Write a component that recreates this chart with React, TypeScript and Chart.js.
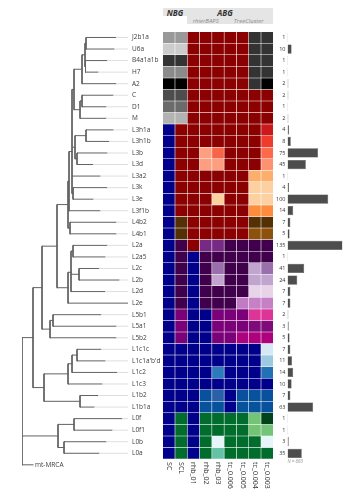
import React, { useEffect, useRef } from 'react';
import { Chart, registerables } from 'chart.js';

Chart.register(...registerables);

// ---------- data ----------
const leafNames = [
  'J2b1a', 'U6a', 'B4a1a1b', 'H7', 'A2', 'C', 'D1', 'M',
  'L3h1a', 'L3h1b', 'L3b', 'L3d', 'L3a2', 'L3k', 'L3e', 'L3f1b',
  'L4b2', 'L4b1', 'L2a', 'L2a5', 'L2c', 'L2b', 'L2d', 'L2e',
  'L5b1', 'L5a1', 'L5b2', 'L1c1c', "L1c1a'b'd", 'L1c2', 'L1c3', 'L1b2', 'L1b1a',
  'L0f', 'L0f1', 'L0b', 'L0a',
];
// distance from the root to each tip
const leafDepths = [
  94, 92, 85, 76, 94, 91, 84, 84,
  91, 87, 85, 71, 78, 85, 71, 78,
  94, 94, 85, 83, 77, 97, 83, 106,
  79, 94, 94, 79, 83, 95, 80, 76, 72,
  100, 90, 84, 77,
];
const rootLabel = 'mt-MRCA';
const rootLeafDepth = 11;

// internal nodes of the tree
const nodeNames = [
  'JU', 'BH', 'NR', 'N', 'CD', 'Mg', 'L3A', 'L3h', 'L3bd', 'L3C', 'L3ke', 'L3main', 'L3X', 'L4', 'L3L4',
  'L2aa', 'L2cb', 'L2A', 'L2', 'L234', 'L5ab', 'L5', 'L2to6',
  'L1c1', 'L1c12', 'L1c', 'L1b', 'L1', 'nonL0', 'L0ff', 'L0ba', 'L0', 'root',
];
const nodeDepths = [
  64, 63.5, 63, 60, 60, 58, 52, 64, 55, 53, 51, 50, 47, 48, 46,
  51, 57, 49, 46, 35, 31, 28, 20,
  55, 50, 46, 58, 22, 11, 52, 42, 36, 0,
];
const nodeChildren = [
  ['J2b1a', 'U6a'], ['B4a1a1b', 'H7'], ['JU', 'BH'], ['NR', 'A2'], ['C', 'D1'], ['CD', 'M'], ['N', 'Mg'],
  ['L3h1a', 'L3h1b'], ['L3b', 'L3d'], ['L3h', 'L3bd'], ['L3k', 'L3e'], ['L3A', 'L3C', 'L3a2', 'L3ke'],
  ['L3main', 'L3f1b'], ['L4b2', 'L4b1'], ['L3X', 'L4'],
  ['L2a', 'L2a5'], ['L2c', 'L2b'], ['L2aa', 'L2cb', 'L2d'], ['L2A', 'L2e'], ['L3L4', 'L2'],
  ['L5b1', 'L5a1'], ['L5ab', 'L5b2'], ['L234', 'L5'],
  ['L1c1c', "L1c1a'b'd"], ['L1c1', 'L1c2'], ['L1c12', 'L1c3'], ['L1b2', 'L1b1a'], ['L1c', 'L1b'],
  ['L2to6', 'L1'], ['L0f', 'L0f1'], ['L0b', 'L0a'], ['L0ff', 'L0ba'], ['nonL0', 'L0', 'mt-MRCA'],
];

const counts = [
  1, 10, 1, 1, 2, 2, 1, 2,
  4, 8, 75, 45, 1, 4, 100, 14,
  7, 5, 135, 1, 41, 24, 7, 7,
  2, 3, 5, 7, 11, 14, 10, 7, 63,
  1, 1, 3, 35,
];
const totalLabel = 'N = 660';

const columnNames = ['SC', 'SCL', 'rhb_01', 'rhb_02', 'rhb_03', 'tc_0.006', 'tc_0.005', 'tc_0.004', 'tc_0.003'];

// cluster colours per row (one per column)
const R = '#8b0000';
const NV = '#00008b';
const DG = '#333333';
const DP = '#40004b';
const PU = '#7a0177';
const GR = '#006d2c';
const BL = '#08519c';
const heatColors = [
  ['#999999', '#999999', R, R, R, R, R, DG, DG],
  ['#cccccc', '#cccccc', R, R, R, R, R, DG, DG],
  ['#333333', '#333333', R, R, R, R, R, DG, DG],
  ['#8a8a8a', '#8a8a8a', R, R, R, R, R, DG, DG],
  ['#000000', '#000000', R, R, R, R, R, DG, '#000000'],
  ['#4d4d4d', '#4d4d4d', R, R, R, R, R, R, R],
  ['#6b6b6b', '#6b6b6b', R, R, R, R, R, R, R],
  ['#b3b3b3', '#b3b3b3', R, R, R, R, R, R, R],
  [NV, R, R, R, R, R, R, R, '#cb181d'],
  [NV, R, R, R, R, R, R, R, '#ef3b2c'],
  [NV, R, R, '#fc9e80', '#f6654a', R, R, R, '#fb6a4a'],
  [NV, R, R, '#fc9e80', '#fc9e80', R, R, R, '#fc9272'],
  [NV, R, R, R, R, R, R, '#fdae6b', '#fdae6b'],
  [NV, R, R, R, R, R, R, '#fdd0a2', '#fdd0a2'],
  [NV, R, R, R, '#fdd0a2', R, R, '#fdd0a2', '#fdd0a2'],
  [NV, R, R, R, R, R, R, '#fd8d3c', '#fd8d3c'],
  [NV, '#543005', R, R, R, R, R, '#543005', '#543005'],
  [NV, '#543005', R, R, R, R, R, '#8c510a', '#8c510a'],
  [NV, DP, R, '#762a83', '#762a83', DP, DP, DP, DP],
  [NV, DP, NV, DP, DP, DP, DP, DP, DP],
  [NV, DP, NV, DP, '#9970ab', DP, DP, '#c2a5cf', '#9970ab'],
  [NV, DP, NV, DP, '#c2a5cf', DP, DP, '#c2a5cf', '#c2a5cf'],
  [NV, DP, NV, DP, DP, DP, DP, '#e7d4e8', '#e7d4e8'],
  [NV, DP, NV, DP, DP, DP, '#c07cc2', '#c580c6', '#c580c6'],
  [NV, PU, NV, NV, PU, PU, PU, '#dd3497', '#dd3497'],
  [NV, PU, NV, NV, PU, PU, PU, '#7f0a7a', '#7f0a7a'],
  [NV, PU, NV, NV, PU, PU, '#ae017e', '#ae017e', '#ae017e'],
  [NV, NV, NV, NV, NV, NV, NV, NV, '#d6e8f4'],
  [NV, NV, NV, NV, NV, NV, NV, NV, '#9ecae1'],
  [NV, NV, NV, NV, '#2b7bba', NV, NV, NV, '#2171b5'],
  [NV, NV, NV, NV, NV, NV, NV, NV, NV],
  [NV, NV, NV, BL, '#2a60a8', NV, BL, BL, BL],
  [NV, NV, NV, BL, BL, NV, BL, BL, BL],
  [NV, GR, NV, GR, GR, GR, GR, '#74c476', '#00441b'],
  [NV, GR, NV, GR, GR, GR, GR, '#74c476', '#74c476'],
  [NV, GR, NV, GR, '#e5f5f9', GR, GR, GR, '#e5f5f9'],
  [NV, GR, NV, GR, '#66c2a4', GR, GR, GR, GR],
];

// ---------- layout / style ----------
const FONT = "'Open Sans', 'DejaVu Sans', sans-serif";
const PLOT_TOP = 31.7;
const ROW_H = 11.55;
const HEAT_LEFT = 162.7;
const HEAT_RIGHT = 273.3;
const BAR_LEFT = 287.5;
const BAR_RIGHT = 342.5;
const TREE_LEFT = 22;
const TREE_RIGHT = 128;
const W = 355;
const H = 500;

function buildTree() {
  const depth: Record<string, number> = {};
  const yPos: Record<string, number> = {};
  leafNames.forEach((n, i) => { depth[n] = leafDepths[i]; yPos[n] = i; });
  depth[rootLabel] = rootLeafDepth;
  yPos[rootLabel] = leafNames.length;
  const kids: Record<string, string[]> = {};
  nodeNames.forEach((n, i) => { depth[n] = nodeDepths[i]; kids[n] = nodeChildren[i]; });
  const getY = (n: string): number => {
    if (yPos[n] !== undefined) return yPos[n];
    const ys = kids[n].map(getY);
    yPos[n] = ys.reduce((a, b) => a + b, 0) / ys.length;
    return yPos[n];
  };
  const branches: any[] = [];
  nodeNames.forEach((n) => {
    const ys = kids[n].map(getY);
    const d = depth[n];
    branches.push({ x: d, y: Math.min(...ys) }, { x: d, y: Math.max(...ys) }, { x: null, y: null });
    kids[n].forEach((c) => {
      const cy = getY(c);
      branches.push({ x: d, y: cy }, { x: depth[c], y: cy }, { x: null, y: null });
    });
  });
  const maxDepth = Math.max(...leafDepths);
  const ext: any[] = [];
  leafNames.forEach((n, i) => {
    ext.push({ x: leafDepths[i], y: i }, { x: maxDepth, y: i }, { x: null, y: null });
  });
  return { branches, ext, maxDepth };
}

const baseOptions = {
  animation: false as const,
  responsive: false,
  maintainAspectRatio: false,
  devicePixelRatio: 1,
  events: [] as any[],
  plugins: { legend: { display: false }, tooltip: { enabled: false } },
};

export default function App() {
  const treeRef = useRef<HTMLCanvasElement>(null);
  const heatRef = useRef<HTMLCanvasElement>(null);
  const barRef = useRef<HTMLCanvasElement>(null);

  useEffect(() => {
    const { branches, ext, maxDepth } = buildTree();
    const nRowsTree = leafNames.length + 1;
    const treeBottom = PLOT_TOP + nRowsTree * ROW_H;

    const treeChart = new Chart(treeRef.current!, {
      type: 'scatter',
      data: {
        datasets: [
          { data: ext, showLine: true, borderColor: '#dedede', borderWidth: 1, pointRadius: 0, spanGaps: false },
          { data: branches, showLine: true, borderColor: '#626262', borderWidth: 1, pointRadius: 0, spanGaps: false, borderCapStyle: 'square' },
        ] as any,
      },
      options: {
        ...baseOptions,
        layout: { padding: { left: TREE_LEFT, right: 0, top: PLOT_TOP, bottom: H - treeBottom } },
        scales: {
          x: { type: 'linear', display: false, min: 0, max: maxDepth },
          y: {
            type: 'linear', position: 'right', min: -0.5, max: nRowsTree - 0.5, reverse: true,
            grid: { display: false, drawTicks: false }, border: { display: false },
            afterBuildTicks: (s: any) => { s.ticks = leafNames.map((_, i) => ({ value: i })); },
            afterFit: (s: any) => { s.width = 163 - TREE_RIGHT; },
            ticks: {
              autoSkip: false, padding: 4, color: '#3c3c3c',
              font: { family: FONT, size: 6.5 },
              callback: (v: any) => leafNames[v] ?? '',
            },
          },
        },
      } as any,
      plugins: [{
        id: 'rootLabel',
        afterDatasetsDraw(chart: any) {
          const ctx = chart.ctx;
          const xs = chart.scales.x; const ys = chart.scales.y;
          ctx.save();
          ctx.font = `6.5px ${FONT}`;
          ctx.fillStyle = '#3c3c3c';
          ctx.textAlign = 'left';
          ctx.textBaseline = 'middle';
          ctx.fillText(rootLabel, xs.getPixelForValue(rootLeafDepth) + 2, ys.getPixelForValue(leafNames.length));
          ctx.restore();
        },
      }],
    });

    const heatBottom = PLOT_TOP + leafNames.length * ROW_H;
    const heatCanvasLeft = 158;
    const heatCanvasW = 120;
    const heatChart = new Chart(heatRef.current!, {
      type: 'bar',
      data: {
        labels: columnNames,
        datasets: leafNames.map((name, i) => ({
          label: name,
          data: columnNames.map(() => [i - 0.5, i + 0.5]),
          backgroundColor: heatColors[i],
          borderColor: 'rgba(255,255,255,0.13)',
          borderWidth: 0.6,
          borderSkipped: false,
          grouped: false,
          barPercentage: 1,
          categoryPercentage: 1,
        })) as any,
      },
      options: {
        ...baseOptions,
        layout: {
          padding: {
            left: HEAT_LEFT - heatCanvasLeft,
            right: heatCanvasLeft + heatCanvasW - HEAT_RIGHT,
            top: PLOT_TOP,
            bottom: H - heatBottom,
          },
        },
        scales: {
          x: { type: 'category', display: false },
          y: { type: 'linear', display: false, min: -0.5, max: leafNames.length - 0.5, reverse: true },
        },
      } as any,
      plugins: [{
        id: 'colLabels',
        afterDraw(chart: any) {
          const ctx = chart.ctx;
          const xs = chart.scales.x;
          ctx.save();
          ctx.font = `7px ${FONT}`;
          ctx.fillStyle = '#333333';
          ctx.textAlign = 'left';
          ctx.textBaseline = 'middle';
          columnNames.forEach((c, j) => {
            ctx.save();
            ctx.translate(xs.getPixelForValue(j), chart.chartArea.bottom + 3);
            ctx.rotate(Math.PI / 2);
            ctx.fillText(c, 0, 0);
            ctx.restore();
          });
          ctx.restore();
        },
      }],
    });

    const barCanvasLeft = 273;
    const barCanvasW = W - barCanvasLeft;
    const barChart = new Chart(barRef.current!, {
      type: 'bar',
      data: {
        labels: leafNames,
        datasets: [{
          data: counts,
          backgroundColor: '#4d4d4d',
          borderColor: '#3a3a3a',
          borderWidth: 0.5,
          barPercentage: 0.8,
          categoryPercentage: 1,
        }],
      },
      options: {
        ...baseOptions,
        indexAxis: 'y',
        layout: {
          padding: { left: 0, right: barCanvasLeft + barCanvasW - BAR_RIGHT, top: PLOT_TOP, bottom: H - heatBottom },
        },
        scales: {
          x: { type: 'linear', display: false, min: 0, max: Math.max(...counts) },
          y: {
            type: 'category', position: 'left',
            grid: { display: false, drawTicks: false }, border: { display: false },
            afterFit: (s: any) => { s.width = BAR_LEFT - barCanvasLeft; },
            ticks: {
              autoSkip: false, padding: 2, color: '#333333',
              font: { family: FONT, size: 5.5 },
              callback: (_v: any, i: number) => String(counts[i]),
            },
          },
        },
      } as any,
    });

    return () => { treeChart.destroy(); heatChart.destroy(); barChart.destroy(); };
  }, []);

  const abs = (s: any) => ({ position: 'absolute' as const, ...s });
  const heatColW = (HEAT_RIGHT - HEAT_LEFT) / columnNames.length;
  const centered = (cx: number, cy: number, style: any, text: string) => (
    <div style={abs({ left: cx - 40, top: cy - 6, width: 80, height: 12, lineHeight: '12px', textAlign: 'center', fontFamily: FONT, whiteSpace: 'nowrap', ...style })}>{text}</div>
  );

  return (
    <div style={abs({ left: 0, top: 0, width: W, height: H, background: '#ffffff', overflow: 'hidden' })}>
      <div style={abs({ left: HEAT_LEFT, top: 8.3, width: HEAT_RIGHT - HEAT_LEFT, height: 8, background: '#e5e5e5' })} />
      <div style={abs({ left: HEAT_LEFT + 2 * heatColW, top: 16.3, width: HEAT_RIGHT - HEAT_LEFT - 2 * heatColW, height: 8, background: '#e5e5e5' })} />
      {centered(HEAT_LEFT + heatColW, 12.5, { fontSize: 8, fontWeight: 700, fontStyle: 'italic', color: '#333' }, 'NBG')}
      {centered(225, 12.5, { fontSize: 8, fontWeight: 700, fontStyle: 'italic', color: '#333' }, 'ABG')}
      {centered(HEAT_LEFT + 3.5 * heatColW, 20.6, { fontSize: 6, fontStyle: 'italic', color: '#8a8a8a' }, 'rhierBAPS')}
      {centered(HEAT_LEFT + 7 * heatColW, 20.6, { fontSize: 6, fontStyle: 'italic', color: '#8a8a8a' }, 'TreeCluster')}
      <canvas ref={treeRef} width={163} height={H} style={abs({ left: 0, top: 0, width: 163, height: H })} />
      <canvas ref={heatRef} width={120} height={H} style={abs({ left: 158, top: 0, width: 120, height: H })} />
      <canvas ref={barRef} width={W - 273} height={H} style={abs({ left: 273, top: 0, width: W - 273, height: H })} />
      <div style={abs({ left: BAR_LEFT, top: 458, fontSize: 4.5, fontStyle: 'italic', color: '#999', fontFamily: FONT, lineHeight: '7px', whiteSpace: 'nowrap' })}>{totalLabel}</div>
    </div>
  );
}
